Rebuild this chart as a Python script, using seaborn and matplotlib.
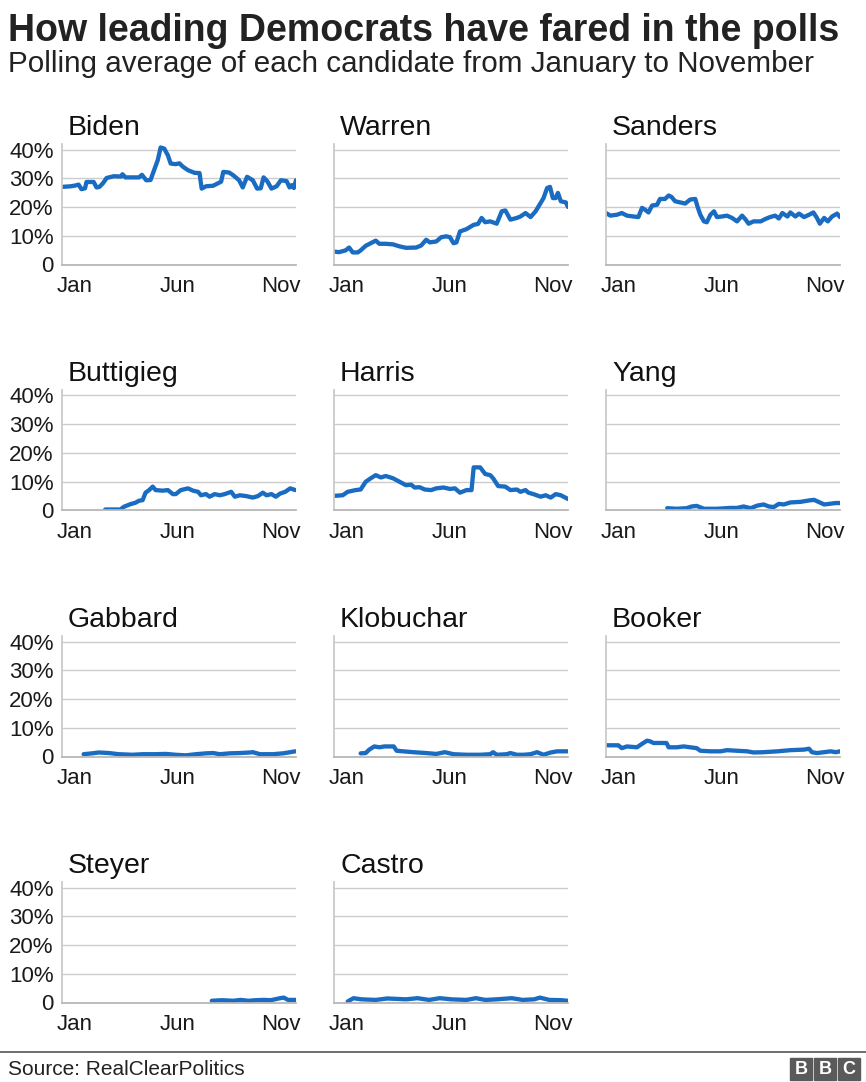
import matplotlib
matplotlib.use('Agg')
import matplotlib.pyplot as plt
from matplotlib.lines import Line2D
from matplotlib.patches import Rectangle
import seaborn as sns

# polling averages: day of year (0 = 1 Jan) and percent
biden_days = [0, 12, 19, 23, 27, 32, 34, 44, 48, 52, 57, 62, 72, 82, 84, 88, 107, 111, 117, 123,
              127, 133, 137, 142, 147, 151, 158, 163, 168, 175, 184, 191, 194, 200, 210, 217, 221, 224,
              232, 238, 246, 251, 257, 265, 271, 276, 280, 285, 291, 298, 304, 312, 316, 319, 322, 325]
biden_pct = [27, 27.2, 27.5, 27.8, 26.2, 26.5, 28.7, 28.7, 26.8, 27, 28.3, 30.1, 30.7, 30.6, 31.4, 30.3,
             30.3, 31.2, 29.3, 29.4, 32.2, 36.3, 40.7, 40.3, 38, 35.1, 34.9, 35.2, 34, 32.8, 31.9, 31.8,
             26.4, 27.2, 27.4, 28.3, 28.8, 32.2, 32, 31, 29.3, 26.8, 30.5, 29.3, 26.4, 26.5, 30.3, 29,
             26.4, 27.2, 29.3, 29, 26.8, 27.6, 26.6, 29.3]

warren_days = [0, 7, 16, 21, 26, 33, 37, 44, 51, 58, 63, 72, 82, 91, 100, 114, 121, 128, 133, 142,
               149, 156, 161, 166, 170, 175, 184, 194, 200, 205, 210, 217, 226, 233, 238, 245, 254, 259,
               266, 273, 280, 287, 291, 296, 300, 304, 308, 311, 315, 322, 325]
warren_pct = [4.5, 4.3, 4.9, 5.9, 4.2, 4.2, 4.9, 6.5, 7.4, 8.3, 7.2, 7.2, 7.0, 6.3, 5.8, 5.9, 6.6, 8.6,
              7.7, 8.0, 9.5, 9.8, 9.5, 7.4, 7.7, 11.5, 12.3, 13.8, 14.1, 16.2, 14.7, 15.0, 14.2, 18.5,
              18.8, 15.6, 16.2, 16.7, 17.9, 16.5, 18.5, 21.4, 23.1, 26.6, 27.0, 23.1, 23.1, 24.9, 22.0,
              21.6, 20.0]

sanders_days = [0, 6, 15, 22, 29, 38, 45, 50, 54, 59, 64, 71, 75, 82, 87, 91, 96, 103, 110, 117,
                124, 127, 131, 136, 140, 145, 150, 154, 161, 168, 175, 182, 189, 194, 198, 205, 215, 221,
                228, 235, 240, 245, 252, 256, 263, 268, 275, 282, 288, 293, 297, 303, 308, 314, 321, 325]
sanders_pct = [17.9, 17.0, 17.3, 17.9, 17.0, 16.7, 16.5, 19.7, 19.1, 18.1, 20.5, 20.8, 22.8, 22.8, 24.0,
               23.5, 22.0, 21.6, 21.2, 22.6, 22.8, 20.2, 17.3, 15.0, 14.7, 17.3, 18.5, 16.5, 16.7, 17.0,
               16.2, 15.0, 17.0, 15.6, 14.2, 15.0, 15.0, 15.8, 16.5, 17.0, 16.0, 17.9, 16.7, 18.1, 16.7,
               17.7, 16.5, 17.3, 18.1, 16.2, 14.2, 16.2, 15.0, 16.7, 17.7, 16.5]

buttigieg_days = [60, 70, 81, 86, 95, 102, 107, 112, 116, 121, 126, 130, 140, 147, 154, 158, 165, 175,
                  182, 189, 193, 200, 205, 212, 219, 226, 235, 240, 247, 256, 265, 272, 279, 284, 291,
                  297, 303, 310, 317, 324]
buttigieg_pct = [0.35, 0.35, 0.35, 1.3, 2.2, 2.7, 3.4, 3.6, 6.2, 7.1, 8.3, 7.1, 6.9, 7.1, 5.7, 5.7, 7.1,
                 7.7, 6.9, 6.5, 5.3, 5.7, 4.8, 5.7, 5.3, 5.7, 6.5, 4.8, 5.3, 5.0, 4.5, 5.0, 6.2, 5.3, 5.7,
                 4.8, 5.9, 6.5, 7.7, 7.1]

harris_days = [0, 12, 19, 30, 37, 44, 51, 58, 65, 72, 82, 91, 100, 107, 112, 119, 126, 135, 142, 152,
               161, 168, 175, 184, 191, 194, 203, 210, 217, 221, 228, 238, 245, 254, 259, 266, 270, 277,
               287, 294, 301, 308, 315, 325]
harris_pct = [5.1, 5.3, 6.5, 7.1, 7.3, 10.0, 11.2, 12.3, 11.5, 12.0, 11.2, 10.0, 8.8, 9.0, 8.0, 8.1, 7.3,
              7.1, 7.7, 8.0, 7.5, 7.7, 6.2, 7.1, 7.1, 15.0, 15.0, 12.7, 12.3, 11.2, 8.5, 8.3, 7.1, 7.3,
              6.5, 7.1, 6.2, 5.7, 4.8, 5.3, 4.5, 5.7, 5.3, 4.0]

yang_days = [85, 98, 112, 119, 126, 136, 154, 173, 182, 191, 201, 210, 219, 226, 233, 240, 247, 256,
             270, 282, 289, 296, 303, 310, 319, 325]
yang_pct = [0.8, 0.6, 0.8, 1.4, 1.6, 0.6, 0.6, 0.9, 0.9, 1.4, 0.8, 1.7, 2.1, 1.4, 1.2, 2.3, 2.1, 2.8,
            3.0, 3.5, 3.7, 2.9, 2.1, 2.3, 2.6, 2.6]

gabbard_days = [30, 42, 51, 65, 79, 98, 112, 130, 144, 158, 172, 186, 200, 210, 219, 233, 247, 261,
                265, 275, 293, 307, 317, 324]
gabbard_pct = [0.8, 1.1, 1.4, 1.2, 0.8, 0.6, 0.8, 0.8, 0.9, 0.6, 0.4, 0.8, 1.1, 1.2, 0.8, 1.1, 1.2,
               1.4, 1.5, 0.8, 0.8, 1.1, 1.5, 1.8]

klobuchar_days = [37, 44, 49, 56, 63, 70, 77, 83, 87, 96, 110, 128, 142, 154, 166, 184, 203, 217, 221,
                  226, 240, 245, 254, 263, 273, 282, 291, 301, 310, 324]
klobuchar_pct = [1.1, 1.2, 2.4, 3.5, 3.2, 3.5, 3.5, 3.5, 2.0, 1.8, 1.5, 1.2, 0.9, 1.5, 0.8, 0.6, 0.6,
                 0.8, 1.5, 0.6, 0.8, 1.2, 0.6, 0.6, 0.8, 1.5, 0.6, 1.4, 1.8, 1.8]

booker_days = [0, 17, 22, 29, 43, 50, 57, 61, 66, 84, 87, 98, 108, 117, 126, 131, 145, 159, 168, 182,
               196, 205, 219, 238, 256, 275, 282, 286, 293, 303, 312, 319, 325]
booker_pct = [3.9, 3.9, 2.9, 3.5, 3.2, 4.4, 5.5, 5.3, 4.7, 4.7, 3.2, 3.2, 3.5, 3.2, 2.9, 2.0, 1.8, 1.8,
              2.2, 2.0, 1.8, 1.4, 1.5, 1.8, 2.2, 2.4, 2.7, 1.5, 1.2, 1.5, 1.8, 1.5, 1.8]

steyer_days = [208, 222, 238, 248, 259, 269, 280, 290, 303, 308, 314, 325]
steyer_pct = [0.6, 0.8, 0.6, 0.9, 0.6, 0.8, 0.9, 0.8, 1.5, 1.7, 0.9, 0.9]

castro_days = [19, 27, 38, 58, 74, 100, 116, 132, 147, 163, 184, 197, 210, 226, 247, 262, 278, 286,
               299, 315, 325]
castro_pct = [0.35, 1.5, 1.1, 0.9, 1.4, 1.1, 1.5, 0.9, 1.5, 1.1, 0.9, 1.5, 0.9, 1.1, 1.5, 0.9, 1.1, 1.7,
              0.9, 0.8, 0.6]

candidates = ['Biden', 'Warren', 'Sanders', 'Buttigieg', 'Harris', 'Yang',
              'Gabbard', 'Klobuchar', 'Booker', 'Steyer', 'Castro']
series = [(biden_days, biden_pct), (warren_days, warren_pct), (sanders_days, sanders_pct),
          (buttigieg_days, buttigieg_pct), (harris_days, harris_pct), (yang_days, yang_pct),
          (gabbard_days, gabbard_pct), (klobuchar_days, klobuchar_pct), (booker_days, booker_pct),
          (steyer_days, steyer_pct), (castro_days, castro_pct)]

month_ticks = [17, 161, 304]
month_labels = ['Jan', 'Jun', 'Nov']
pct_ticks = [0, 10, 20, 30, 40]
pct_labels = ['0', '10%', '20%', '30%', '40%']

BLUE = '#1a6cc2'
W, H = 866, 1082

sns.set_theme(style='white')
plt.rcParams['font.family'] = ['Liberation Sans', 'DejaVu Sans']

fig = plt.figure(figsize=(W / 100, H / 100), dpi=100)

ax_w, ax_h = 234, 120.75
for i, (name, (days, pct)) in enumerate(zip(candidates, series)):
    row, col = divmod(i, 3)
    left = 62 + 272 * col
    zero_y = 264.5 + 246 * row
    ax = fig.add_axes([left / W, 1 - zero_y / H, ax_w / W, ax_h / H])

    sns.lineplot(x=days, y=pct, ax=ax, color=BLUE, linewidth=3.1)

    ax.set_xlim(0, 325)
    ax.set_ylim(0, 42)
    ax.set_xticks(month_ticks)
    ax.set_xticklabels(month_labels)
    ax.set_yticks(pct_ticks)
    ax.set_yticklabels(pct_labels if col == 0 else [''] * len(pct_ticks))
    ax.grid(axis='y', color='#cccccc', linewidth=1)
    ax.grid(axis='x', visible=False)
    ax.set_axisbelow(True)
    for s in ['top', 'right']:
        ax.spines[s].set_visible(False)
    ax.spines['left'].set_color('#c8c8c8')
    ax.spines['bottom'].set_color('#b5b5b5')
    ax.tick_params(length=0, labelsize=16, colors='#1a1a1a')
    ax.tick_params(axis='x', pad=8.5)
    ax.tick_params(axis='y', pad=6)
    ax.set_xlabel('')
    ax.set_ylabel('')

    # panel title sits ~9px above the top of the plot area
    ax.text(6 / ax_w, 129.5 / ax_h, name, transform=ax.transAxes, fontsize=20.5,
            va='baseline', ha='left', color='#111111')

fig.text(8 / W, 1 - 41 / H, 'How leading Democrats have fared in the polls',
         fontsize=27, fontweight='bold', va='baseline', ha='left', color='#222222')
fig.text(8 / W, 1 - 72 / H, 'Polling average of each candidate from January to November',
         fontsize=21.3, va='baseline', ha='left', color='#222222')

fig.add_artist(Line2D([0, 1], [1 - 1052 / H, 1 - 1052 / H], color='#555555', linewidth=1.2))
fig.text(8 / W, 1 - 1075 / H, 'Source: RealClearPolitics', fontsize=15,
         va='baseline', ha='left', color='#222222')

for k, x0 in enumerate([790, 814, 838]):
    fig.add_artist(Rectangle((x0 / W, 1 - 1080 / H), 22 / W, 22 / H,
                             transform=fig.transFigure, color='#5a5a5a'))
    fig.text((x0 + 11) / W, 1 - 1069 / H, 'BBC'[k], fontsize=13, fontweight='bold',
             color='white', ha='center', va='center')

fig.savefig('out.png', dpi=100, facecolor='white')
